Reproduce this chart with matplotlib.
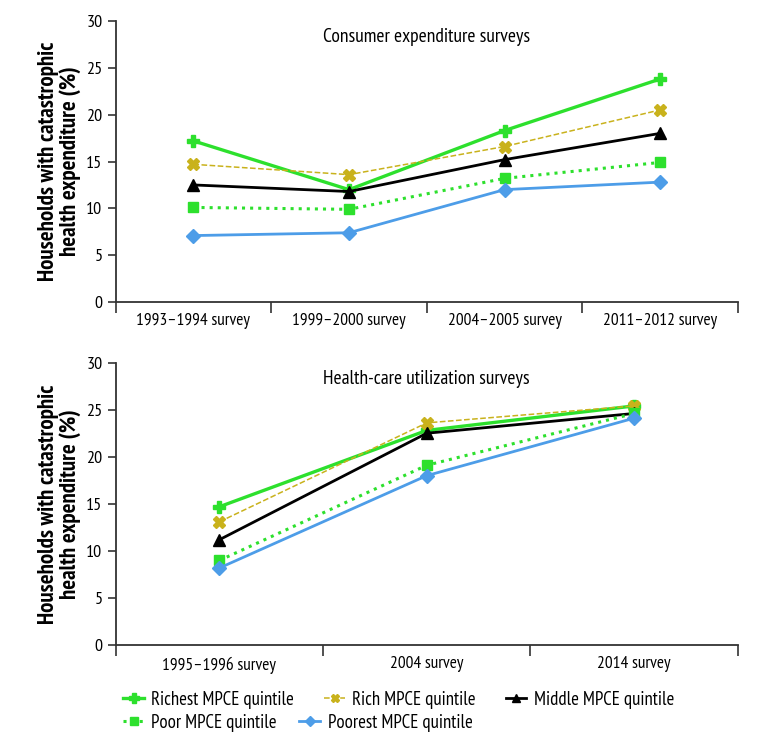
import numpy as np
import matplotlib.pyplot as plt

plt.rcParams['font.family'] = ['PT Sans Narrow', 'DejaVu Sans']

# === DATI ===============================================================
sondaggi_ces = ["1993\u20131994 survey", "1999\u20132000 survey",
                "2004\u20132005 survey", "2011\u20132012 survey"]
ces_richest = [17.2, 12.0, 18.3, 23.8]
ces_rich    = [14.7, 13.6, 16.6, 20.5]
ces_middle  = [12.5, 11.8, 15.2, 18.0]
ces_poor    = [10.1, 9.9, 13.2, 14.9]
ces_poorest = [7.1, 7.4, 12.0, 12.8]

sondaggi_hus = ["1995\u20131996 survey", "2004 survey", "2014 survey"]
hus_richest = [14.7, 22.8, 25.4]
hus_rich    = [13.1, 23.6, 25.4]
hus_middle  = [11.2, 22.5, 24.6]
hus_poor    = [9.0, 19.1, 24.6]
hus_poorest = [8.2, 18.0, 24.1]

etichette = ["Richest MPCE quintile", "Rich MPCE quintile", "Middle MPCE quintile",
             "Poor MPCE quintile", "Poorest MPCE quintile"]
# ========================================================================

stili = [
    dict(color='#2de02d', ls='-', lw=2.4, marker='P', ms=9),
    dict(color='#c9b21c', ls='--', lw=1.1, marker='X', ms=8),
    dict(color='black', ls='-', lw=2.0, marker='^', ms=8),
    dict(color='#2de02d', ls=':', lw=2.2, marker='s', ms=7),
    dict(color='#4d9de8', ls='-', lw=2.0, marker='D', ms=7),
]

fig = plt.figure(figsize=(7.71, 7.46), dpi=100)
ax1 = fig.add_axes([0.150, 0.595, 0.807, 0.377])
ax2 = fig.add_axes([0.150, 0.135, 0.807, 0.379])

def disegna(ax, categorie, serie, titolo):
    n = len(categorie)
    x = np.arange(n) + 0.5
    linee = []
    for valori, st in zip(serie, stili):
        l, = ax.plot(x, valori, **st)
        linee.append(l)
    ax.set_xlim(0, n)
    ax.set_ylim(0, 30)
    ax.set_yticks(range(0, 31, 5))
    ax.set_xticks(range(n + 1))
    ax.set_xticklabels([])
    ax.set_xticks(x, minor=True)
    ax.set_xticklabels(categorie, minor=True, fontsize=12.5)
    ax.tick_params(axis='x', which='minor', length=0, pad=8)
    ax.tick_params(axis='x', which='major', length=8, width=1.2, direction='out', color='#333333')
    ax.tick_params(axis='y', length=6, width=1.2, labelsize=13, color='#333333')
    for s in ['top', 'right']:
        ax.spines[s].set_visible(False)
    for s in ['left', 'bottom']:
        ax.spines[s].set_color('#333333')
        ax.spines[s].set_linewidth(1.3)
    ax.text(0.5, 0.975, titolo, transform=ax.transAxes, ha='center', va='top', fontsize=14)
    ax.set_ylabel("Households with catastrophic\nhealth expenditure (%)",
                  fontsize=16.5, fontweight='bold', labelpad=4, linespacing=1.0)
    return linee

disegna(ax1, sondaggi_ces, [ces_richest, ces_rich, ces_middle, ces_poor, ces_poorest],
        "Consumer expenditure surveys")
linee = disegna(ax2, sondaggi_hus, [hus_richest, hus_rich, hus_middle, hus_poor, hus_poorest],
                "Health-care utilization surveys")

# legenda su due righe indipendenti
comune = dict(loc='center left', frameon=False, fontsize=13.5, handlelength=1.1,
              handletextpad=0.4, markerscale=0.75, borderpad=0, borderaxespad=0)
fig.legend(linee[:3], etichette[:3], bbox_to_anchor=(0.160, 0.062), ncol=3,
           columnspacing=1.6, **comune)
fig.legend(linee[3:], etichette[3:], bbox_to_anchor=(0.160, 0.031), ncol=2,
           columnspacing=1.2, **comune)

fig.savefig("out.png", dpi=100)
